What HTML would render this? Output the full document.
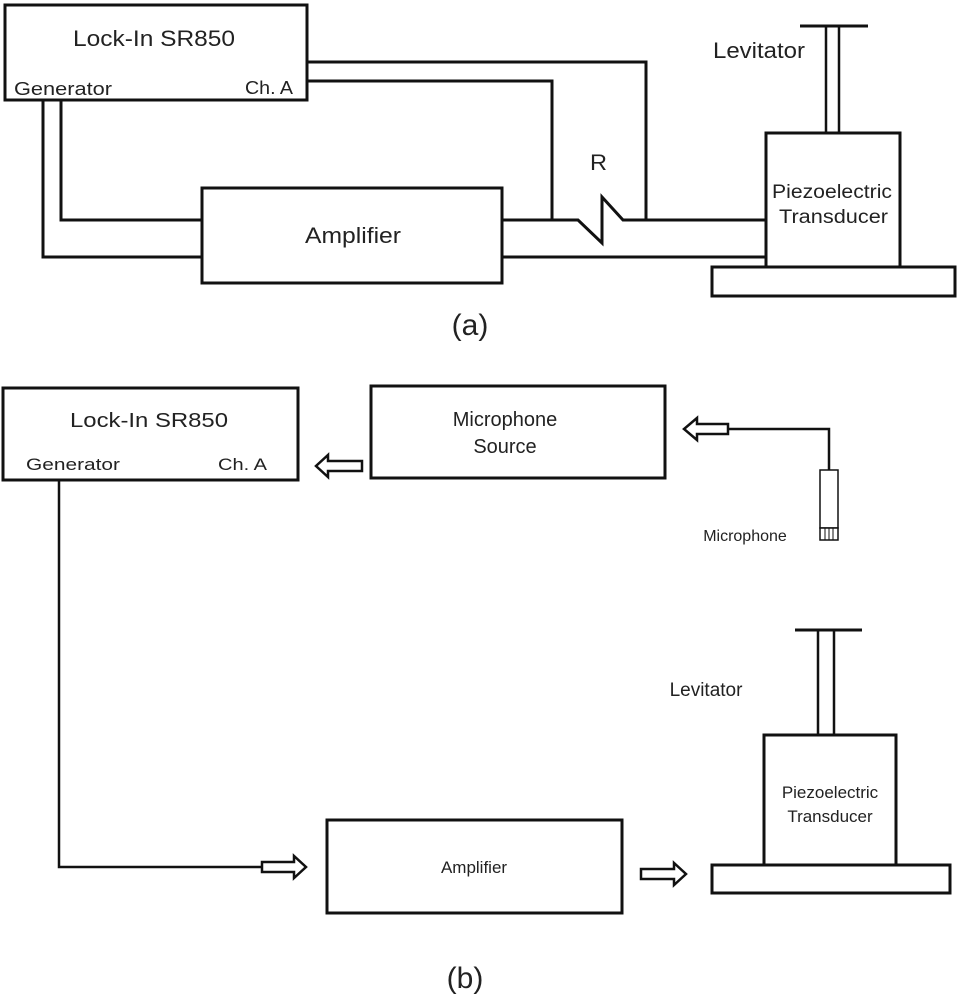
<!DOCTYPE html>
<html><head><meta charset="utf-8"><style>
html,body{margin:0;padding:0;background:#fff;}
svg{display:block;}
text{font-family:"Liberation Sans",Arial,sans-serif;fill:#222;}
</style></head><body>
<svg width="957" height="1000" viewBox="0 0 957 1000" xmlns="http://www.w3.org/2000/svg">
<g fill="none" stroke="#111" stroke-width="3">
<rect x="5" y="5" width="302" height="95"/>
<rect x="202" y="188" width="300" height="95"/>
<rect x="766" y="133" width="134" height="134"/>
<rect x="712" y="267" width="243" height="29"/>
<polyline points="307,62 646,62 646,220"/>
<polyline points="307,81 552,81 552,220"/>
<polyline points="61,100 61,220 202,220"/>
<polyline points="43,100 43,257 202,257"/>
<polyline points="502,220 578,220 602,243 602,197 623,220 766,220"/>
<line x1="502" y1="257" x2="766" y2="257"/>
<line x1="826" y1="27" x2="826" y2="133" stroke-width="2.5"/>
<line x1="839" y1="27" x2="839" y2="133" stroke-width="2.5"/>
<line x1="800" y1="26" x2="868" y2="26"/>
<rect x="3" y="388" width="295" height="92"/>
<rect x="371" y="386" width="294" height="92"/>
<rect x="327" y="820" width="295" height="93"/>
<rect x="764" y="735" width="132" height="130"/>
<rect x="712" y="865" width="238" height="28"/>
<line x1="818" y1="630" x2="818" y2="735" stroke-width="2.5"/>
<line x1="834" y1="630" x2="834" y2="735" stroke-width="2.5"/>
<line x1="795" y1="630" x2="862" y2="630"/>
<polyline points="59,480 59,867 262,867" stroke-width="2.5"/>
<polyline points="728,429 829,429 829,470" stroke-width="2.5"/>
</g>
<g fill="#fff" stroke="#111" stroke-width="2.5">
<polygon points="362,461 328,461 328,455 316,466 328,477 328,471 362,471"/>
<polygon points="728,424 697,424 697,418 684,429 697,440 697,434 728,434"/>
<polygon points="262,862 294,862 294,856 306,867 294,878 294,872 262,872"/>
<polygon points="641,869 674,869 674,863 686,874 674,885 674,879 641,879"/>
<rect x="820" y="470" width="18" height="58" stroke-width="1.5"/>
<rect x="820" y="528" width="18" height="12" stroke-width="1.5"/>
</g>
<g stroke="#111" stroke-width="1">
<line x1="825" y1="528" x2="825" y2="540"/><line x1="829" y1="528" x2="829" y2="540"/><line x1="833" y1="528" x2="833" y2="540"/>
</g>
<text x="73" y="46" font-size="22" textLength="162" lengthAdjust="spacingAndGlyphs">Lock-In  SR850</text>
<text x="14" y="95" font-size="18" textLength="98" lengthAdjust="spacingAndGlyphs">Generator</text>
<text x="245" y="94" font-size="18" textLength="48" lengthAdjust="spacingAndGlyphs">Ch. A</text>
<text x="305" y="243" font-size="22" textLength="96" lengthAdjust="spacingAndGlyphs">Amplifier</text>
<text x="590" y="170" font-size="22" textLength="17" lengthAdjust="spacingAndGlyphs">R</text>
<text x="713" y="58" font-size="22" textLength="92" lengthAdjust="spacingAndGlyphs">Levitator</text>
<text x="772" y="198" font-size="19" textLength="120" lengthAdjust="spacingAndGlyphs">Piezoelectric</text>
<text x="779" y="223" font-size="19" textLength="109" lengthAdjust="spacingAndGlyphs">Transducer</text>
<text x="470" y="335" font-size="30" text-anchor="middle">(a)</text>
<text x="70" y="427" font-size="20" textLength="158" lengthAdjust="spacingAndGlyphs">Lock-In  SR850</text>
<text x="26" y="470" font-size="17" textLength="94" lengthAdjust="spacingAndGlyphs">Generator</text>
<text x="218" y="470" font-size="17" textLength="49" lengthAdjust="spacingAndGlyphs">Ch. A</text>
<text x="505" y="426" font-size="20" text-anchor="middle">Microphone</text>
<text x="505" y="453" font-size="20" text-anchor="middle">Source</text>
<text x="745" y="541" font-size="16" text-anchor="middle">Microphone</text>
<text x="474" y="873" font-size="17" text-anchor="middle">Amplifier</text>
<text x="706" y="696" font-size="19" text-anchor="middle">Levitator</text>
<text x="830" y="798" font-size="17" text-anchor="middle">Piezoelectric</text>
<text x="830" y="822" font-size="17" text-anchor="middle">Transducer</text>
<text x="465" y="988" font-size="30" text-anchor="middle">(b)</text>
</svg>
</body></html>
